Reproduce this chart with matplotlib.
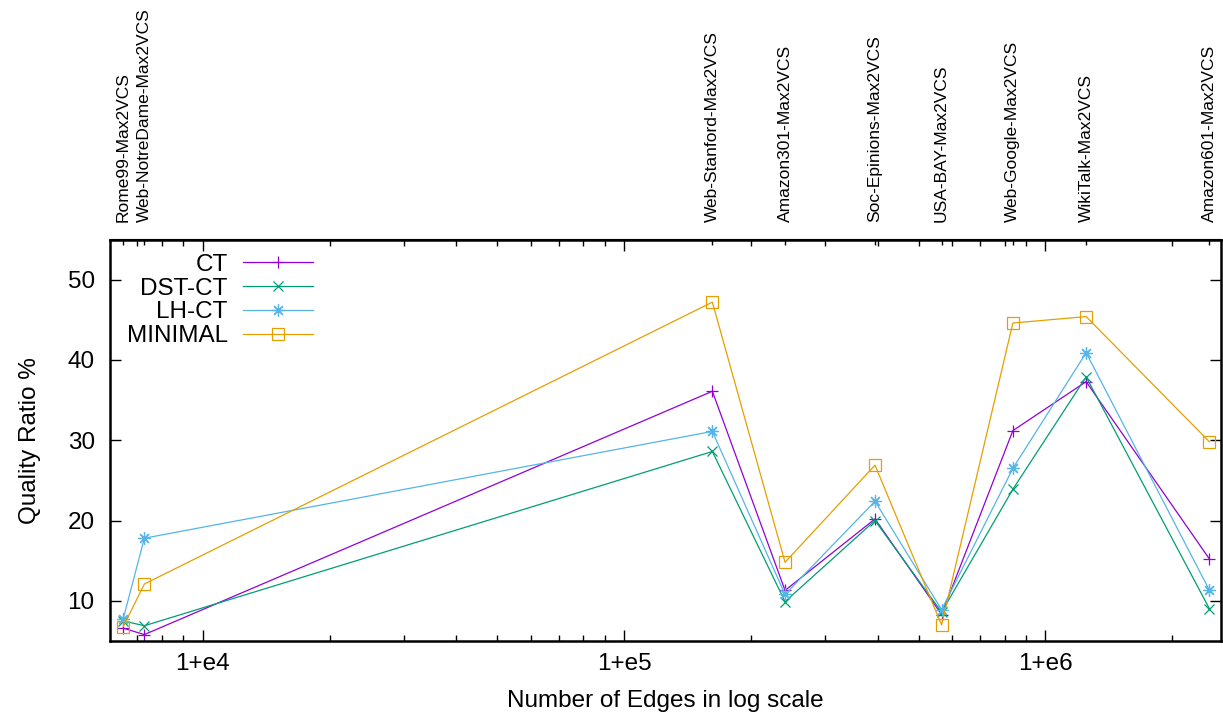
import matplotlib
matplotlib.use("Agg")
import matplotlib.pyplot as plt
from matplotlib.ticker import LogLocator, NullFormatter, NullLocator

plt.rcParams["font.family"] = ["Liberation Sans", "DejaVu Sans"]

graphs = ["Rome99-Max2VCS", "Web-NotreDame-Max2VCS", "Web-Stanford-Max2VCS",
          "Amazon301-Max2VCS", "Soc-Epinions-Max2VCS", "USA-BAY-Max2VCS",
          "Web-Google-Max2VCS", "WikiTalk-Max2VCS", "Amazon601-Max2VCS"]
edges = [6480, 7270, 162000, 241000, 394000, 567000, 837000, 1249000, 2451000]

ct = [6.6, 5.8, 36.1, 11.3, 20.2, 8.3, 31.2, 37.3, 15.2]
dst_ct = [7.5, 6.9, 28.6, 9.9, 20.0, 8.6, 23.9, 37.9, 9.0]
lh_ct = [7.8, 17.8, 31.1, 10.8, 22.4, 8.9, 26.5, 40.9, 11.3]
minimal = [6.8, 12.1, 47.2, 14.8, 26.9, 7.0, 44.6, 45.4, 29.8]

series = [
    ("CT", ct, "#9400d3", "+", 8),
    ("DST-CT", dst_ct, "#009e73", "x", 7.5),
    ("LH-CT", lh_ct, "#56b4e9", (8, 2, 0), 9),
    ("MINIMAL", minimal, "#e69f00", "s", 8.5),
]

fig = plt.figure(figsize=(12.23, 7.19), dpi=100)
ax = fig.add_axes([110 / 1223, 78 / 719, 1111 / 1223, 401.5 / 719])

for name, vals, color, marker, ms in series:
    ax.plot(edges, vals, color=color, lw=0.9, marker=marker, ms=ms,
            mfc="none", mec=color, mew=0.9, label=name)

ax.set_xscale("log")
ax.set_xlim(6026, 2.61e6)
ax.set_ylim(5, 55)
ax.set_yticks([10, 20, 30, 40, 50])
ax.set_xticks([1e4, 1e5, 1e6])
ax.set_xticklabels(["1+e4", "1+e5", "1+e6"])
ax.xaxis.set_minor_locator(LogLocator(base=10, subs=range(2, 10), numticks=20))
ax.xaxis.set_minor_formatter(NullFormatter())

ax.tick_params(which="both", direction="in", top=True, right=True, labelsize=17.5)
ax.tick_params(which="major", length=8, width=1.0)
ax.tick_params(which="minor", length=4.5, width=1.0)
ax.tick_params(axis="x", pad=9)
ax.tick_params(axis="y", pad=11)
for spine in ax.spines.values():
    spine.set_linewidth(1.8)

top = ax.secondary_xaxis("top")
top.set_xticks(edges)
top.set_xticklabels(graphs, rotation=90, fontsize=12.5)
top.xaxis.set_minor_locator(NullLocator())
top.tick_params(direction="in", length=4.5, width=1.0, pad=12.5)

ax.set_xlabel("Number of Edges in log scale", fontsize=17.5)
ax.set_ylabel("Quality Ratio %", fontsize=17.5)
ax.xaxis.set_label_coords(0.5, -0.122)
ax.yaxis.set_label_coords(-0.062, 0.5)

ax.legend(loc="upper left", bbox_to_anchor=(0.015, 0.965), frameon=False,
          markerfirst=False, numpoints=1, fontsize=17.5, borderpad=0,
          borderaxespad=0, handlelength=2.9, handletextpad=0.62,
          labelspacing=0.08)

fig.savefig("out.png", dpi=100)
